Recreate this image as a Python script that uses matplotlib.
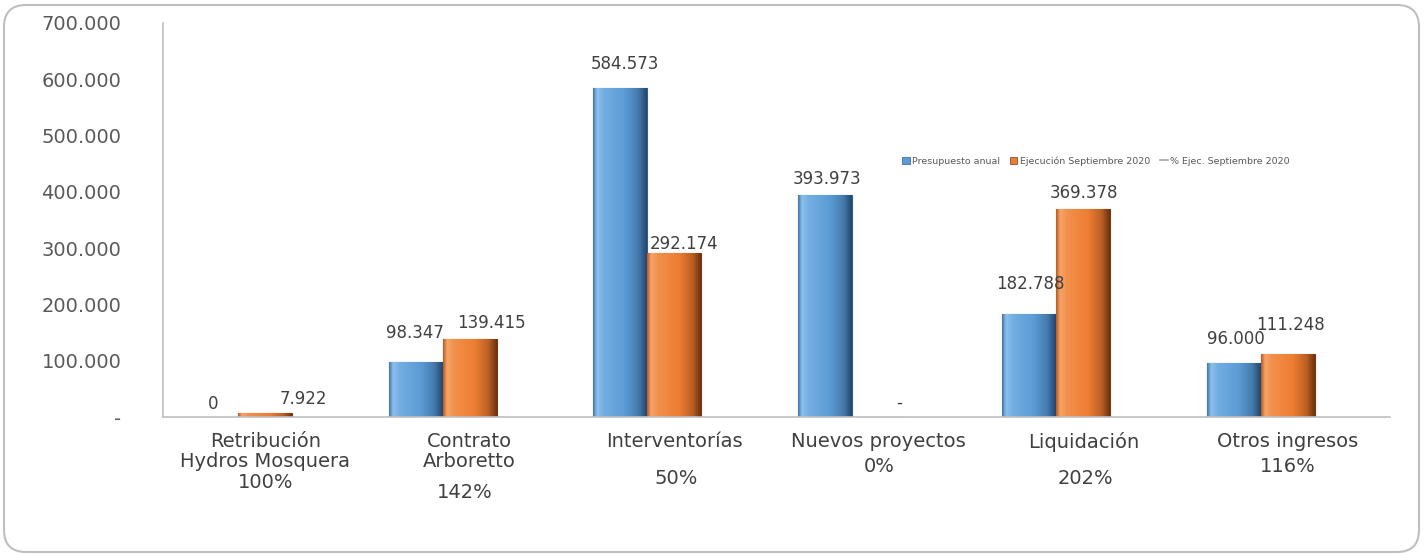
import matplotlib
matplotlib.use("Agg")
import matplotlib.pyplot as plt
import numpy as np
from matplotlib.patches import FancyBboxPatch, Patch
from matplotlib.lines import Line2D
from matplotlib.colors import to_rgb
from matplotlib.transforms import IdentityTransform

# ---------------- data ----------------
categories = ["Retribución\nHydros Mosquera", "Contrato\nArboretto", "Interventorías",
              "Nuevos proyectos", "Liquidación", "Otros ingresos"]
presupuesto = [0, 98347, 584573, 393973, 182788, 96000]
ejecucion = [7922, 139415, 292174, 0, 369378, 111248]
pct_ejec = [100, 142, 50, 0, 202, 116]
series_names = ["Presupuesto anual", "Ejecución Septiembre 2020", "% Ejec. Septiembre 2020"]
yticks = [0, 100000, 200000, 300000, 400000, 500000, 600000, 700000]

# ---------------- label placement (pixels) ----------------
blue_lbl_off = [(2, 13), (-1, 29), (5, 24), (2, 16), (1, 30), (2, 24)]
orange_lbl_off = [(38, 14), (22, 16), (10, 9), (20, 14), (1, 16), (3, 29)]
pct_off = [(0, -65), (-5, -75), (2, -61), (0, -49), (2, -61), (0, -49)]

BLUE = "#5B9BD5"
ORANGE = "#ED7D31"
TXT = "#404040"

fig = plt.figure(figsize=(14.25, 5.54), dpi=100)
fig.patch.set_facecolor("white")
W, H = 1425, 554
ax = fig.add_axes([163 / W, 1 - 417 / H, (1390 - 163) / W, (417 - 23) / H])

x = np.arange(len(categories))
bw = 0.264


def fmt(v, zero="-"):
    return zero if v == 0 else f"{int(v):,}".replace(",", ".")


def shade(bars, base, dark, light):
    b = np.array(to_rgb(base)); d = np.array(to_rgb(dark)); l = np.array(to_rgb(light))
    pos = np.linspace(0, 1, 64)
    stops_p = [0.0, 0.07, 0.2, 0.6, 0.85, 1.0]
    stops_c = [0.6 * b + 0.4 * d, l, 0.5 * (l + b), b, 0.6 * b + 0.4 * d, d]
    grad = np.zeros((1, 64, 3))
    for c in range(3):
        grad[0, :, c] = np.interp(pos, stops_p, [s[c] for s in stops_c])
    for r in bars:
        h = r.get_height()
        if h <= 0:
            continue
        x0, y0, w = r.get_x(), r.get_y(), r.get_width()
        im = ax.imshow(grad, extent=[x0, x0 + w, y0, y0 + h], aspect="auto",
                       interpolation="bilinear", zorder=r.get_zorder() + 0.1)
        im.set_clip_path(r)


b1 = ax.bar(x - bw, presupuesto, bw, color=BLUE, edgecolor="#2F5F8F", linewidth=0.8, zorder=2)
b2 = ax.bar(x, ejecucion, bw, color=ORANGE, edgecolor="#7A3A10", linewidth=0.8, zorder=2)
shade(b1, BLUE, "#24476E", "#8CC0EE")
shade(b2, ORANGE, "#6E3210", "#F7A468")

for i in range(len(categories)):
    dx, dy = blue_lbl_off[i]
    ax.annotate(fmt(presupuesto[i], zero="0"), xy=(x[i] - bw, presupuesto[i]), xytext=(dx, dy),
                textcoords="offset pixels", ha="center", va="center",
                fontsize=12, color=TXT, zorder=5)
    dx, dy = orange_lbl_off[i]
    ax.annotate(fmt(ejecucion[i]), xy=(x[i], ejecucion[i]), xytext=(dx, dy),
                textcoords="offset pixels", ha="center", va="center",
                fontsize=12, color=TXT, zorder=5)
    dx, dy = pct_off[i]
    ax.annotate(f"{pct_ejec[i]}%", xy=(x[i], 0), xycoords=ax.get_xaxis_transform(),
                xytext=(dx, dy), textcoords="offset pixels", ha="center", va="center",
                fontsize=14, color=TXT, annotation_clip=False)

ax.set_xlim(-0.5, len(categories) - 0.5)
ax.set_ylim(0, 700000)
ax.set_yticks(yticks)
ax.set_yticklabels([fmt(v) for v in yticks])
ax.set_xticks(x)
ax.set_xticklabels(categories, fontsize=14, color=TXT, linespacing=1.05)
ax.tick_params(axis="y", length=0, pad=30, labelsize=14, labelcolor="#595959")
ax.tick_params(axis="x", length=0, pad=11)
for s in ["top", "right"]:
    ax.spines[s].set_visible(False)
for s in ["left", "bottom"]:
    ax.spines[s].set_color("#BFBFBF")
    ax.spines[s].set_linewidth(1.2)

handles = [Patch(facecolor=BLUE, edgecolor="#2F5F8F", linewidth=0.5),
           Patch(facecolor=ORANGE, edgecolor="#7A3A10", linewidth=0.5),
           Line2D([0], [0], color="#A5A5A5", lw=1.2)]
fig.legend(handles, series_names, loc="center", bbox_to_anchor=(1096 / W, 1 - 161 / H),
           ncol=3, frameon=False, fontsize=6.8, handlelength=0.8, handleheight=0.8,
           handletextpad=0.3, columnspacing=1.0, labelcolor="#595959")

frame = FancyBboxPatch((4, 2), 1415, 547, boxstyle="round,pad=0,rounding_size=22",
                       transform=IdentityTransform(), facecolor="none",
                       edgecolor="#BFBFBF", linewidth=1.5)
fig.patches.append(frame)

fig.savefig("out.png", dpi=100, facecolor="white")
